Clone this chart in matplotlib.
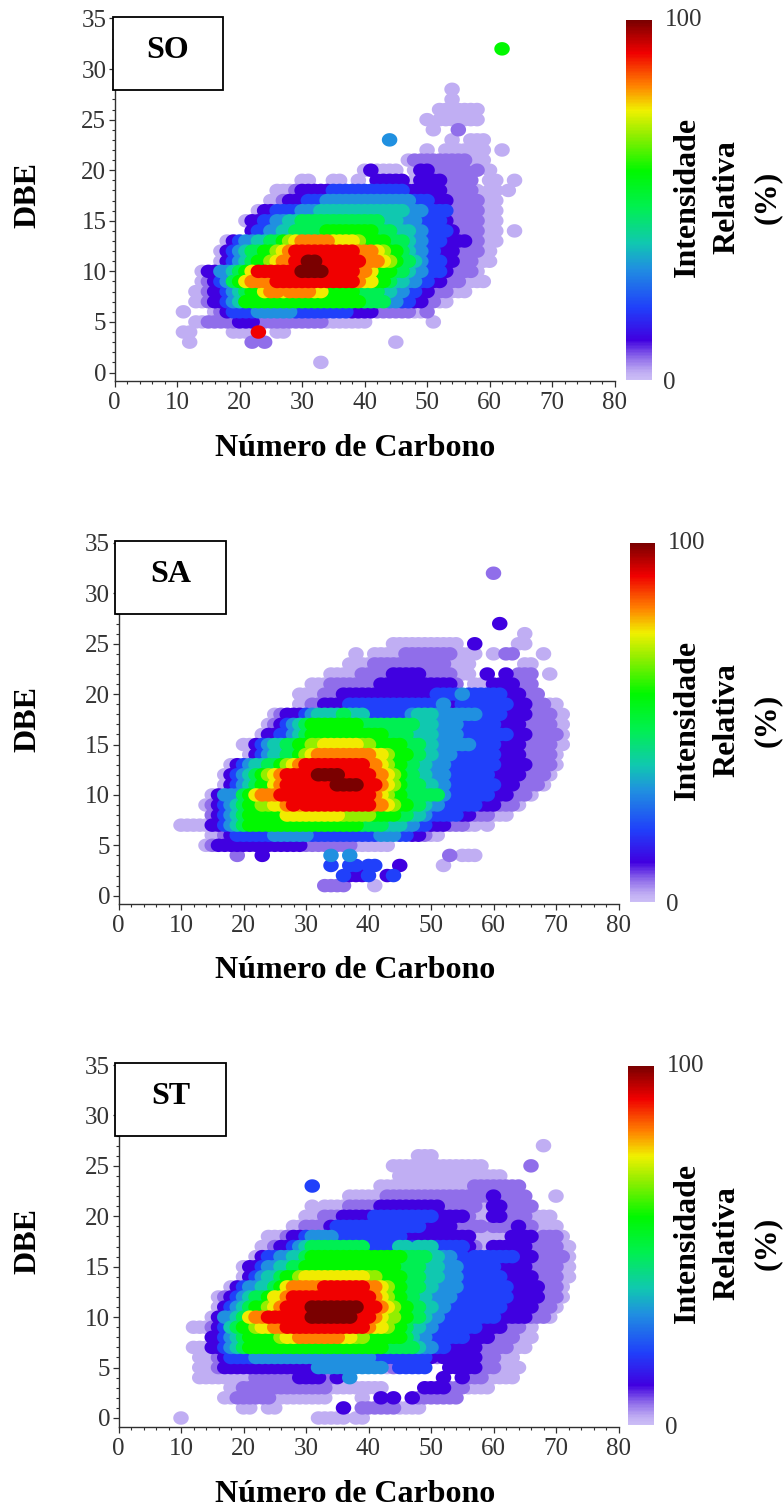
import numpy as np
import matplotlib
matplotlib.use('Agg')
import matplotlib.pyplot as plt
from matplotlib.colors import LinearSegmentedColormap, Normalize
from matplotlib.cm import ScalarMappable
from matplotlib.patches import Rectangle
from matplotlib.path import Path
from matplotlib.markers import MarkerStyle
from matplotlib.ticker import MultipleLocator

plt.rcParams['font.family'] = ['Liberation Serif', 'DejaVu Serif']

W, H = 784, 1508

level_codes = 'abcdefghijklm'
level_values = [2, 6, 11, 20, 31, 38, 48, 58, 68, 75, 82, 91, 100]
level_colors = ['#c0aef3', '#8f6cea', '#4000e0', '#2040fa', '#2090e0', '#10c8b0', '#00f050',
                '#00f800', '#90ee00', '#f0f000', '#ff8000', '#f00000', '#7a0000']

# rows: (DBE, first carbon number, codes), a space is a carbon number with no spot
so_rows = [
    (32, 62, 'h'),
    (28, 54, 'a'),
    (27, 54, 'a'),
    (26, 52, 'aaaaaaa'),
    (25, 50, 'a aaa aaa'),
    (24, 51, 'a   b'),
    (23, 44, 'e         a  aaa'),
    (22, 50, 'a  aaaaaaa  a'),
    (21, 47, 'abbbbbbbbbaaa'),
    (20, 40, 'acaaaa  accbbbbbb b a'),
    (19, 30, 'aa   aa  a  ccccc accccbbbbb  aa  a'),
    (18, 26, 'aaabcccccddddddddddddccccccbbbbba aa a'),
    (17, 25, 'aabcccdddeeeeeeeeeeeeeedddcccbbbbbaaa'),
    (16, 23, 'accddddeeeffffffffffffffeeeddddbbbbbaaa'),
    (15, 21, 'accddeeffgggggggggggggfffeeeddddcbbbbbaaa'),
    (14, 22, 'cddeeffggggghhhhhhhhgggfffeeddddcbbbbaaa  a'),
    (13, 18, 'acdeeffgghijkkkkkjjjjihhhhgggfeedddccccbbaaa'),
    (12, 17, 'acdefgghhijkllllllllllkkkjihhgfeeddcccbbbbaa'),
    (11, 17, 'acdefghhijkkllmmlllllllkkkjihggfedddccbbbaaa'),
    (10, 14, 'acceefghjlllllllmmmmlllllkkjhhhggfeedddcbbbba'),
    (9, 14, 'abcdeghjkkkklllllllllllllkjjhhgffeeddccbbbaaaa'),
    (8, 13, 'aabccdefghhjkkjkkkkjjhhhhhggggffeeddccbbbaaa'),
    (7, 13, 'aabccdefhhhhhhhhhhhhhhhhhhhggggeeddccbbaa'),
    (6, 11, 'a    abcddddeeeeeedddddddddccccbbbbbbaab'),
    (5, 13, 'aabbbbbcccbbbbbbbbbbbaaaaaaa          a'),
    (4, 11, 'aa      aaaal  aa'),
    (3, 12, 'a         b b                    a'),
    (1, 33, 'a'),
]

sa_rows = [
    (32, 60, 'b'),
    (27, 61, 'c'),
    (26, 65, 'a'),
    (25, 44, 'aaaaaaaaaaa  c      aa'),
    (24, 38, 'a  aaaaabbbbbbbbaaaa  a bb    a'),
    (23, 37, 'aaaabbbbbbbbbbbbaaaa        aa'),
    (22, 34, 'aaaaabbbbbcccccbbbbbaaa  c  c bbb  a'),
    (21, 31, 'aaabbbbbbbbccccccccccccb  aa ccccbbb'),
    (20, 29, 'aaaabbbcccccccccccccccddddeddddddaccbbb'),
    (19, 29, 'aabbccccdddddddddddddddeccddddddddcccbbbaa'),
    (18, 25, 'abcccdeffffgfffdddddddefffeeeeeeeddddccccbbbbaa'),
    (17, 24, 'abcdefghhhhhhhhgggggggggfffeeeeddddddccccbbbbbaa'),
    (16, 23, 'accddefghhhhhhhhhhhhggggffffeeeeddddddddcccbbbbba'),
    (15, 20, 'aacdeffgghhiijjjjjjiihhhhhgggffeeeeeeddddccccbbbbbaa'),
    (14, 21, 'acdeffgghijkkkkkkkkkjjihhhggffeeedddddddccccbbbbba'),
    (13, 18, 'acdeffgghijkllllllllllkkjihhggffeeeddddddddcccccbbbba'),
    (12, 17, 'acdefghijklllllmmmmlllllkkjihggffeeedddddddcccccbbbba'),
    (11, 17, 'acdefghhjkllllllllmmmmlllkjihgggffeeddddddddcccbbbba'),
    (10, 15, 'aceeeghjkkklllllllllllllllkjihhggggggedddddddcccbbba'),
    (9, 14, 'abcdefghhiijjklklllllllllllkkjihhggfeeddddddcccbbba'),
    (8, 15, 'bcdefghhhhhhjjjjjjjjjiiiiihhhhggffedddddccbbbaaa'),
    (7, 10, 'aaaaaccdefghhhhhhhhhhhhhhhhhhggggfffeeddcccbbbaa a'),
    (6, 15, 'aabcddddddeeeeeedddddddddddeeeddccbaa'),
    (5, 14, 'abccccccccccccccbbbbbbbbaaaaaa'),
    (4, 19, 'b   c          e  e               b aaa'),
    (3, 34, 'd  dd dd   c      a'),
    (2, 36, 'dcccd  cd'),
    (1, 33, 'bbbb    a'),
]

st_rows = [
    (27, 68, 'a'),
    (26, 48, 'aaa'),
    (25, 44, 'aaaaaaaaaaaaaaa       b'),
    (24, 45, 'aaaaaaaaaaaaaaaaa'),
    (23, 31, 'd          aaaaaaaaaaaaaaabbbbbbbb'),
    (22, 37, 'aaaaaabbbbbbbbbbbbbbbbbcbbbbb    a'),
    (21, 31, 'a aaaabbbbbccccccccccbbbbbbaaccbbbbb'),
    (20, 30, 'aaabbbcccccddddddddddcccccbaaaccbbbb aaa'),
    (19, 28, 'aabbbbcddddddddddddddcccccbbbbbabbbbcbba aa'),
    (18, 24, 'aaabccdeeeedddddddddddcccccccccccaaaaaaccccabbba'),
    (17, 23, 'aabccdefgggggggggdddddffdfffdddddcbaaccccccbbbbbaa'),
    (16, 22, 'acddeeffghhhhhhhhhhhhhhhggggffeeddcdddddddcccbbbbba'),
    (15, 20, 'accdeeffgghhhhhhhhhhhhhhhggggfffeeeddddddcccccbbbbbaa'),
    (14, 20, 'acdeffghhijjjjjjjjjjiihhhhgggfffeeedddddddcccccbbbbaa'),
    (13, 18, 'acdeeffghjkkkkklllllllkkjihhgggffeeeeddddddddcccccbbba'),
    (12, 16, 'abcdefgghjjklllllllllllllkjihhggffeeeedddddddddcccccbbba'),
    (11, 16, 'acdefghhijkllllmmmmmmmmlllkjihhggffeedddddddddcccccbbba'),
    (10, 15, 'aceefgjkklllllllmmmmmmmlllkjiihhggfeedddddddddcccccbbba'),
    (9, 12, 'aaabcdfghhijjkklllllllllllllkjjihhgffeedddddddccccbbbaa'),
    (8, 15, 'ccdefghhhhhijjkkkkkkkjjiihhhhhhgfeeddddddccccbbbbaaa'),
    (7, 12, 'aaaccdefghhhhhhhhhhhhhhhhhhhhhhgggggfeeddcccccbbbbbaaa'),
    (6, 13, 'aaabcddddeeeeeeeeeeeeeeeeeeedddddddddcbccccccbbbaaa'),
    (5, 13, 'aaabccccccccccccccceeeeeeeeeeeabddddd   cccccbbbaaaa'),
    (4, 13, 'aaaaaaaaabbbbbbbccccbbcae              c  cbbbaaaaa'),
    (3, 18, 'aabbbbbbbbbbbbbbaaaaaaaaa      ccccbbbaaaa'),
    (2, 17, 'aabbbbbbaaaaaaaaa     a  c c  cbbbbbbb'),
    (1, 20, 'aa  aa          c  bbbbbbaaaa'),
    (0, 10, 'a                     aaaaa aa'),
]

panel_names = ['SO', 'SA', 'ST']
panel_rows = [so_rows, sa_rows, st_rows]
x_ticks = [0, 10, 20, 30, 40, 50, 60, 70, 80]
y_ticks = [0, 5, 10, 15, 20, 25, 30, 35]
x_label = 'Número de Carbono'
y_label = 'DBE'
bar_label = 'Intensidade\nRelativa\n(%)'

# pixel layout of each panel: x of C=0, x of C=80, y of DBE=35, y of DBE=0, y of axis
px_x0 = [114.7, 118.5, 118.5]
px_x80 = [614.5, 618.5, 618.5]
px_y35 = [18.5, 543.0, 1065.0]
px_y0 = [372.5, 895.7, 1418.0]
px_bottom = [381.0, 904.0, 1427.0]
# label box: left, top, right, bottom
box = [(113, 17, 223, 90), (115, 541, 226, 614), (115, 1063, 226, 1136)]
bar_box = [(626, 20, 652, 380), (630, 543, 655, 902), (628, 1066, 654, 1425)]

fig = plt.figure(figsize=(W / 100, H / 100), dpi=100)
stops = [(0, '#cbbdf6')] + [(v / 100, c) for v, c in zip(level_values, level_colors)]
cmap = LinearSegmentedColormap.from_list('rel', stops)
norm = Normalize(0, 100)

t = np.linspace(0, 2 * np.pi, 40)
blob = MarkerStyle(Path(np.column_stack([1.15 * np.cos(t), np.sin(t)]), closed=True))


def px_axes(left, top, right, bottom):
    return fig.add_axes([left / W, 1 - bottom / H, (right - left) / W, (bottom - top) / H])


for i, rows in enumerate(panel_rows):
    scale = (px_y0[i] - px_y35[i]) / 35
    ax = px_axes(px_x0[i], px_y35[i], px_x80[i], px_bottom[i])
    ax.set_xlim(0, 80)
    ax.set_ylim(-(px_bottom[i] - px_y0[i]) / scale, 35)

    carbon, dbe, value = [], [], []
    for row_dbe, first, codes in rows:
        for k, ch in enumerate(codes):
            if ch != ' ':
                carbon.append(first + k)
                dbe.append(row_dbe)
                value.append(level_values[level_codes.index(ch)])
    order = np.argsort(value, kind='stable')
    carbon, dbe, value = np.array(carbon)[order], np.array(dbe)[order], np.array(value)[order]
    ax.scatter(carbon, dbe, c=value, cmap=cmap, norm=norm, marker=blob, s=125, linewidths=0, clip_on=False, zorder=2)

    for side in ['top', 'right']:
        ax.spines[side].set_visible(False)
    for side in ['left', 'bottom']:
        ax.spines[side].set_color('#303030')
        ax.spines[side].set_linewidth(1.0)
    ax.set_xticks(x_ticks)
    ax.set_yticks(y_ticks)
    ax.xaxis.set_minor_locator(MultipleLocator(2))
    ax.yaxis.set_minor_locator(MultipleLocator(1))
    ax.tick_params(which='major', length=4, width=0.9, color='#303030', labelsize=18, labelcolor='#333333')
    ax.tick_params(which='minor', length=2.2, width=0.8, color='#303030')
    ax.tick_params(axis='x', which='major', pad=4)
    ax.tick_params(axis='y', which='major', pad=2)
    ax.patch.set_alpha(0)

    fig.text(355 / W, 1 - (px_bottom[i] + 67) / H, x_label, fontsize=23, fontweight='bold', ha='center', va='center')
    fig.text(28 / W, 1 - (px_y0[i] - 177) / H, y_label, fontsize=23, fontweight='bold', rotation=90, ha='center', va='center')

    l, t_, r, b = box[i]
    fig.add_artist(Rectangle((l / W, 1 - b / H), (r - l) / W, (b - t_) / H, transform=fig.transFigure,
                             facecolor='white', edgecolor='black', linewidth=1.3, zorder=5))
    fig.text((l + r) / 2 / W, 1 - (t_ + 34) / H, panel_names[i], fontsize=23, fontweight='bold', ha='center', va='center', zorder=6)

    bl, bt, br, bb = bar_box[i]
    cax = px_axes(bl, bt, br, bb)
    cb = fig.colorbar(ScalarMappable(norm=norm, cmap=cmap), cax=cax)
    cb.set_ticks([])
    cb.outline.set_visible(False)
    fig.text((br + 13) / W, 1 - bt / H, '100', fontsize=18, color='#333333', ha='left', va='center')
    fig.text((br + 11) / W, 1 - (bb + 3) / H, '0', fontsize=18, color='#333333', ha='left', va='center')
    fig.text(727 / W, 1 - (bt + 177) / H, bar_label, fontsize=23, fontweight='bold', rotation=90,
             ha='center', va='center', linespacing=1.5, multialignment='center')

fig.savefig('out.png', dpi=100)
